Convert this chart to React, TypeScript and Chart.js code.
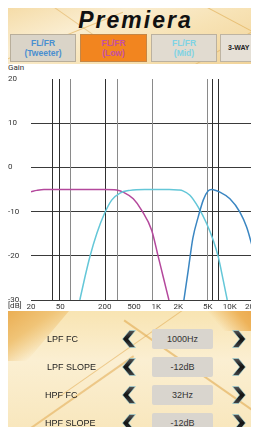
import React, { useEffect, useRef } from "react";
import { Chart, registerables } from "chart.js";

Chart.register(...registerables);

// ---- data ----
const xTickValues = [20, 50, 200, 500, 1000, 2000, 5000, 10000, 20000];
const xTickLabels = ["20", "50", "200", "500", "1K", "2K", "5K", "10K", "20K"];
const yMin = -30;
const yMax = 20;
const yStep = 10;

const lowFreq = [20, 24, 30, 50, 100, 200, 291, 358, 489, 636, 869, 1067, 1248, 1490];
const lowGain = [-5.5, -5.2, -5.0, -5, -5, -5, -5.1, -5.6, -7.1, -9.7, -14.2, -20.2, -24.8, -30];

const midFreq = [92, 108, 126, 156, 198, 249, 323, 441, 700, 1500, 2000, 2310, 2872, 3725, 4840, 5955, 6955, 8130, 9225];
const midGain = [-30, -24.8, -20.2, -15, -10.5, -7.4, -5.8, -5.2, -5, -5, -5.1, -5.3, -6.3, -9, -12.7, -16.5, -20.2, -25.5, -30];

const tweeterFreq = [2380, 2725, 3150, 3725, 4355, 5090, 5665, 7330, 10020, 13700, 16900, 20000];
const tweeterGain = [-30, -23.3, -16, -11.2, -7.4, -5.3, -5, -5.6, -7.1, -10.1, -13.5, -17.6];

const darkMarkerFreqs = [38.9, 48.4, 200, 5770, 6825];
const lightMarkerFreqs = [67.6, 291, 869, 4840];

const tabTitles = ["FL/FR", "FL/FR", "FL/FR", "3-WAY"];
const tabSubtitles = ["(Tweeter)", "(Low)", "(Mid)", ""];

const controlLabels = ["LPF FC", "LPF SLOPE", "HPF FC", "HPF SLOPE"];
const controlValues = ["1000Hz", "-12dB", "32Hz", "-12dB"];

// ---- styles ----
const tabStyles = [
  { left: 2, width: 66, bg: "#dad4c8", color: "#4a8fd0" },
  { left: 72, width: 67, bg: "#f2851f", color: "#c64fa2" },
  { left: 143, width: 66, bg: "#e1dbd0", color: "#7fd3e4" },
  { left: 212, width: 42, bg: "#e6e0d6", color: "#222" },
];

const toPts = (f: number[], g: number[]) => f.map((x, i) => ({ x, y: g[i] }));

const markerPlugin = {
  id: "markers",
  beforeDatasetsDraw(chart: any) {
    const { ctx, scales } = chart;
    const xs = scales.x;
    const ys = scales.y;
    const top = Math.round(ys.getPixelForValue(yMax));
    const bottom = Math.round(ys.getPixelForValue(yMin));
    const draw = (freqs: number[], color: string) => {
      ctx.save();
      ctx.strokeStyle = color;
      ctx.lineWidth = 1;
      freqs.forEach((f) => {
        const px = Math.round(xs.getPixelForValue(f)) + 0.5;
        ctx.beginPath();
        ctx.moveTo(px, top);
        ctx.lineTo(px, bottom);
        ctx.stroke();
      });
      ctx.restore();
    };
    draw(lightMarkerFreqs, "#8a8a8a");
    draw(darkMarkerFreqs, "#2f2f2f");
  },
};

function Chevron({ dir }: { dir: "left" | "right" }) {
  const id = "g" + dir;
  const pts =
    dir === "left"
      ? "13,0 6,8.5 13,17 7,17 0,8.5 7,0"
      : "0,0 7,8.5 0,17 6,17 13,8.5 6,0";
  return (
    <svg width="14" height="18" viewBox="-0.5 -0.5 14 18" style={{ display: "block" }}>
      <defs>
        <linearGradient id={id} x1="0" y1="0" x2="0" y2="1">
          <stop offset="0" stopColor="#555" />
          <stop offset="0.5" stopColor="#111" />
          <stop offset="1" stopColor="#444" />
        </linearGradient>
      </defs>
      <polygon points={pts} fill={`url(#${id})`} stroke="#9fdbe3" strokeWidth="0.6" />
    </svg>
  );
}

export default function App() {
  const canvasRef = useRef<HTMLCanvasElement | null>(null);

  useEffect(() => {
    document.documentElement.style.overflow = "hidden";
    const canvas = canvasRef.current;
    if (!canvas) return;
    const lineDs = (f: number[], g: number[], color: string) => ({
      data: toPts(f, g),
      borderColor: color,
      borderWidth: 1.5,
      pointRadius: 0,
      fill: false,
      cubicInterpolationMode: "monotone" as const,
    });
    const chart = new Chart(canvas, {
      type: "line",
      data: {
        datasets: [
          lineDs(tweeterFreq, tweeterGain, "#3a86c2"),
          lineDs(midFreq, midGain, "#64c7d8"),
          lineDs(lowFreq, lowGain, "#b4489c"),
        ] as any,
      },
      plugins: [markerPlugin],
      options: {
        animation: false,
        responsive: false,
        maintainAspectRatio: false,
        layout: { padding: { top: 14, right: 21, left: 0, bottom: 0 } },
        plugins: { legend: { display: false }, tooltip: { enabled: false } },
        scales: {
          x: {
            type: "logarithmic",
            min: 20,
            max: 20000,
            border: { display: false },
            grid: { display: false, drawTicks: false },
            ticks: {
              autoSkip: false,
              maxRotation: 0,
              padding: 2,
              color: "#333",
              font: { family: "Roboto", size: 8 },
              callback: (v: any) => {
                const i = xTickValues.indexOf(Number(v));
                return i >= 0 ? xTickLabels[i] : "";
              },
            },
            afterBuildTicks: (s: any) => {
              s.ticks = xTickValues.map((v) => ({ value: v }));
            },
            afterFit: (s: any) => {
              s.height = 11;
            },
          },
          y: {
            min: yMin,
            max: yMax,
            border: { display: false },
            grid: {
              drawTicks: false,
              lineWidth: 1,
              color: (ctx: any) =>
                ctx.tick && ctx.tick.value === yMax ? "rgba(0,0,0,0)" : "#3a3a3a",
            },
            ticks: {
              stepSize: yStep,
              crossAlign: "far",
              padding: 0,
              color: "#333",
              font: { family: "Roboto", size: 8 },
            },
            afterFit: (s: any) => {
              s.width = 23;
            },
          },
        },
      } as any,
    });
    return () => chart.destroy();
  }, []);

  const font = "'Liberation Sans', Arial, sans-serif";

  return (
    <div
      style={{
        position: "relative",
        width: 251,
        height: 427,
        marginBottom: -8,
        overflow: "hidden",
        fontFamily: font,
      }}
    >
      {/* header */}
      <div
        style={{
          position: "absolute",
          left: 0,
          top: 0,
          width: 251,
          height: 56,
          overflow: "hidden",
          background:
            "linear-gradient(160deg, #f5dca8 0%, #faedd0 30%, #f7e2b4 60%, #f1d398 100%)",
        }}
      >
        <div style={{ position: "absolute", left: -20, top: 30, width: 140, height: 1, background: "rgba(220,165,70,0.55)", transform: "rotate(-22deg)" }} />
        <div style={{ position: "absolute", left: 150, top: 10, width: 140, height: 1, background: "rgba(220,165,70,0.55)", transform: "rotate(28deg)" }} />
        <div style={{ position: "absolute", left: 10, top: 5, width: 90, height: 1, background: "rgba(220,165,70,0.45)", transform: "rotate(35deg)" }} />
        <div style={{ position: "absolute", left: 170, top: 40, width: 90, height: 1, background: "rgba(220,165,70,0.45)", transform: "rotate(-30deg)" }} />
        <div
          style={{
            position: "absolute",
            left: 0,
            width: 255,
            top: 0,
            textAlign: "center",
            fontFamily: "'Liberation Sans', Arial, sans-serif",
            fontWeight: 700,
            fontStyle: "italic",
            fontSize: 23,
            letterSpacing: 2,
            color: "#111",
            lineHeight: "24px",
          }}
        >
          Premiera
        </div>
        {tabStyles.map((t, i) => (
          <div
            key={i}
            style={{
              position: "absolute",
              left: t.left,
              top: 26,
              width: t.width,
              height: 28,
              background: t.bg,
              boxSizing: "border-box",
              border: "1px solid rgba(150,135,110,0.5)",
              display: "flex",
              flexDirection: "column",
              alignItems: i === 3 ? "flex-start" : "center",
              justifyContent: "center",
              paddingLeft: i === 3 ? 7 : 0,
              color: t.color,
              fontWeight: 700,
              fontSize: i === 3 ? 7 : 8.5,
              lineHeight: "10px",
              whiteSpace: "nowrap",
            }}
          >
            <span>{tabTitles[i]}</span>
            {tabSubtitles[i] ? <span>{tabSubtitles[i]}</span> : null}
          </div>
        ))}
      </div>

      {/* chart area */}
      <div style={{ position: "absolute", left: 0, top: 56, width: 251, height: 247, background: "#fff" }} />
      <div style={{ position: "absolute", left: 0, top: 55, fontFamily: "Roboto, sans-serif", fontSize: 8, color: "#333", lineHeight: "10px" }}>
        Gain
      </div>
      <canvas
        ref={canvasRef}
        width={265}
        height={246}
        style={{ position: "absolute", left: 0, top: 57, width: 265, height: 246 }}
      />
      <div style={{ position: "absolute", left: 0, top: 293, fontFamily: "Roboto, sans-serif", fontSize: 8, color: "#333", lineHeight: "10px", background: "transparent" }}>
        [dB]
      </div>

      {/* control panel */}
      <div
        style={{
          position: "absolute",
          left: 0,
          top: 303,
          width: 251,
          height: 124,
          overflow: "hidden",
          background: "linear-gradient(180deg, #f8e4b2 0%, #fbefd2 40%, #f8e6bb 100%)",
        }}
      >
        <div style={{ position: "absolute", left: -40, top: 0, width: 80, height: 50, background: "linear-gradient(120deg, #e8a545 0%, #f0c477 60%, rgba(248,228,178,0) 100%)", transform: "skewX(-40deg)" }} />
        <div style={{ position: "absolute", left: 205, top: -5, width: 60, height: 25, background: "linear-gradient(90deg, rgba(248,228,178,0) 0%, #eeb35a 50%, #e9a043 100%)", transform: "skewX(40deg)" }} />
        <div style={{ position: "absolute", left: 30, top: 30, width: 200, height: 1, background: "rgba(225,170,80,0.55)", transform: "rotate(-35deg)" }} />
        <div style={{ position: "absolute", left: 100, top: 60, width: 180, height: 1.5, background: "rgba(225,170,80,0.6)", transform: "rotate(35deg)" }} />
        <div style={{ position: "absolute", left: -20, top: 90, width: 160, height: 1.5, background: "rgba(225,170,80,0.55)", transform: "rotate(-35deg)" }} />
        {controlLabels.map((label, i) => {
          const cy = 28 + i * 28;
          return (
            <React.Fragment key={i}>
              <div
                style={{
                  position: "absolute",
                  left: i < 2 ? 39 : 37,
                  top: cy - 6,
                  fontSize: 9,
                  lineHeight: "12px",
                  color: "#222",
                  whiteSpace: "nowrap",
                }}
              >
                {label}
              </div>
              <div style={{ position: "absolute", left: 114, top: cy - 9 }}>
                <Chevron dir="left" />
              </div>
              <div
                style={{
                  position: "absolute",
                  left: 144,
                  top: cy - 10,
                  width: 61,
                  height: 20,
                  borderRadius: 2,
                  background: "#d9d5ce",
                  fontSize: 9,
                  lineHeight: "20px",
                  textAlign: "center",
                  color: "#333",
                }}
              >
                {controlValues[i]}
              </div>
              <div style={{ position: "absolute", left: 224, top: cy - 9 }}>
                <Chevron dir="right" />
              </div>
            </React.Fragment>
          );
        })}
      </div>
    </div>
  );
}
